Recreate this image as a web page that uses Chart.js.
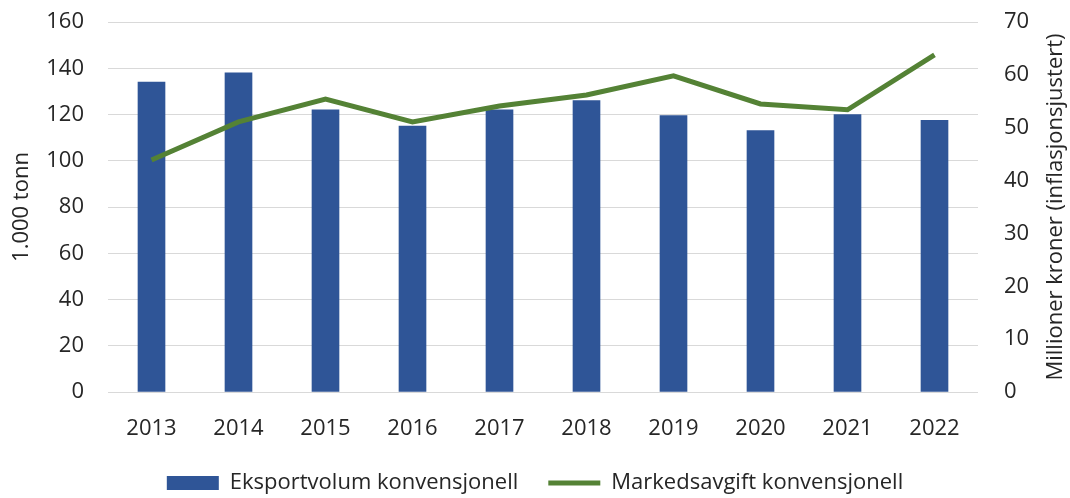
<!DOCTYPE html>
<html>
<head>
<meta charset="utf-8">
<script src="https://cdn.jsdelivr.net/npm/chart.js@4/dist/chart.umd.min.js"></script>
<style>
  html, body { margin: 0; padding: 0; background: #fff; }
  #wrap { width: 1070px; height: 498px; }
</style>
</head>
<body>
<div id="wrap"><canvas id="chart" width="1070" height="498"></canvas></div>
<script>
// år
const years = ['2013', '2014', '2015', '2016', '2017', '2018', '2019', '2020', '2021', '2022'];
// 1.000 tonn
const eksportvolum = [134, 138, 122, 115, 122, 126, 119.5, 113, 120, 117.5];
// millioner kroner (inflasjonsjustert)
const markedsavgift = [43.9, 51.1, 55.4, 51.1, 54.1, 56.2, 59.8, 54.5, 53.4, 63.8];

const leftTicks = [0, 160, 20];
const rightTicks = [0, 70, 10];
const rightTitle = 'Millioner kroner (inflasjonsjustert)';

const FONT = 'Open Sans';
const SIZE = 22;
const TXT = '#262626';

// høyre aksetittel leses nedenfra og opp, så den tegnes her
const rightTitlePlugin = {
  id: 'rightTitle',
  afterDraw(chart) {
    const { ctx, chartArea } = chart;
    ctx.save();
    ctx.translate(1056, (chartArea.top + chartArea.bottom) / 2);
    ctx.rotate(-Math.PI / 2);
    ctx.font = `${SIZE}px "${FONT}"`;
    ctx.fillStyle = TXT;
    ctx.textAlign = 'center';
    ctx.textBaseline = 'middle';
    ctx.fillText(rightTitle, 0, 0);
    ctx.restore();
  },
};

new Chart(document.getElementById('chart'), {
  data: {
    labels: years,
    datasets: [
      {
        type: 'line',
        label: 'Markedsavgift konvensjonell',
        data: markedsavgift,
        yAxisID: 'y2',
        borderColor: '#548235',
        backgroundColor: '#548235',
        borderWidth: 5,
        pointRadius: 0,
        pointStyle: 'line',
        tension: 0,
        order: 1,
      },
      {
        type: 'bar',
        label: 'Eksportvolum konvensjonell',
        data: eksportvolum,
        yAxisID: 'y',
        backgroundColor: '#2F5597',
        borderWidth: 0,
        barThickness: 27,
        pointStyle: 'rect',
        order: 2,
      },
    ],
  },
  options: {
    responsive: false,
    animation: false,
    layout: { padding: { top: 22, bottom: 0, left: 0, right: 0 } },
    scales: {
      x: {
        grid: { display: false, drawTicks: false },
        border: { display: false },
        ticks: { color: TXT, font: { family: FONT, size: SIZE }, padding: 24 },
        afterFit: s => { s.height = 50; },
      },
      y: {
        position: 'left',
        min: leftTicks[0],
        max: leftTicks[1],
        border: { display: false },
        grid: { color: '#d9d9d9', lineWidth: 1, drawTicks: false },
        ticks: { stepSize: leftTicks[2], color: TXT, font: { family: FONT, size: SIZE }, padding: 24 },
        title: { display: true, text: '1.000 tonn', color: TXT, font: { family: FONT, size: SIZE }, padding: { top: 9, bottom: 0 } },
        afterFit: s => { s.width = 108; s.paddingTop = 0; s.paddingBottom = 0; },
      },
      y2: {
        position: 'right',
        min: rightTicks[0],
        max: rightTicks[1],
        border: { display: false },
        grid: { display: false, drawTicks: false },
        ticks: { stepSize: rightTicks[2], color: TXT, font: { family: FONT, size: SIZE }, padding: 26 },
        afterFit: s => { s.width = 92; s.paddingTop = 0; s.paddingBottom = 0; },
      },
    },
    plugins: {
      legend: {
        position: 'bottom',
        reverse: true,
        maxHeight: 56,
        labels: {
          color: TXT,
          font: { family: FONT, size: SIZE },
          usePointStyle: true,
          pointStyleWidth: 52,
          boxHeight: 14,
          padding: 30,
        },
      },
      tooltip: { enabled: false },
    },
  },
  plugins: [rightTitlePlugin],
});
</script>
</body>
</html>
